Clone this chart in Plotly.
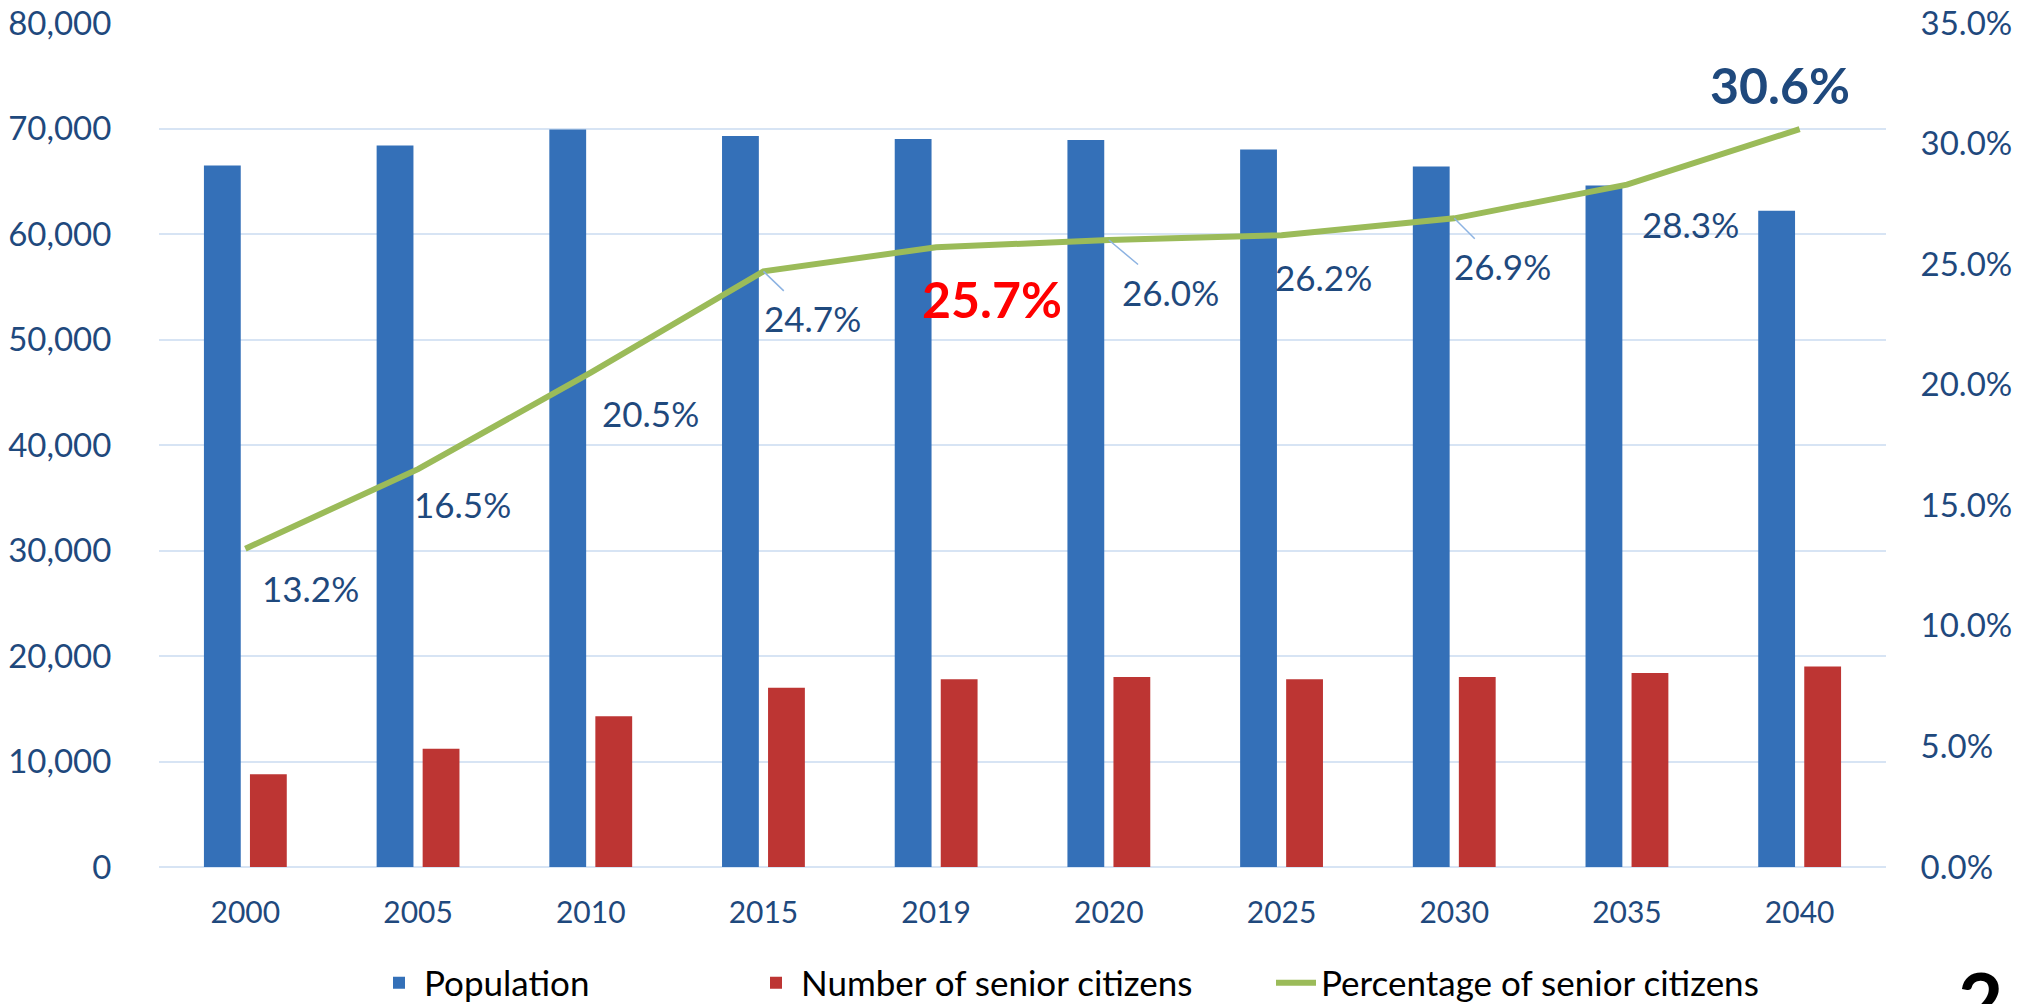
import plotly.graph_objects as go
from plotly.subplots import make_subplots

# ---- data ----
years = ["2000", "2005", "2010", "2015", "2019", "2020", "2025", "2030", "2035", "2040"]
population = [66500, 68400, 69900, 69300, 69000, 68900, 68000, 66400, 64600, 62200]
seniors = [8800, 11200, 14300, 17000, 17800, 18000, 17800, 18000, 18400, 19000]
senior_pct = [13.2, 16.5, 20.5, 24.7, 25.7, 26.0, 26.2, 26.9, 28.3, 30.6]
left_ticks = [0, 10000, 20000, 30000, 40000, 50000, 60000, 70000, 80000]
right_ticks = [0, 5, 10, 15, 20, 25, 30, 35]

# ---- label layout (pixel offsets / styles, not data) ----
label_dx = [65, 44, 60, 49, 56, 62, 42, 48, 64, -20]
label_dy = [39, 35, 40, 47, 52, 52, 42, 48, 39, -44]
label_leader = [False, False, False, True, False, True, False, True, False, False]
label_style = ["n", "n", "n", "n", "red", "n", "n", "n", "n", "big"]

FONT = "Lato"
DARK = "#1f497d"
GRID = "#d7e4f4"

fig = make_subplots(specs=[[{"secondary_y": True}]])

fig.add_trace(go.Bar(
    x=years, y=population, name="Population",
    marker=dict(color="#3470b8", line=dict(width=0)),
    legend="legend",
), secondary_y=False)

fig.add_trace(go.Bar(
    x=years, y=seniors, name="Number of senior citizens",
    marker=dict(color="#bd3533", line=dict(width=0)),
    legend="legend2",
), secondary_y=False)

fig.add_trace(go.Scatter(
    x=years, y=senior_pct, name="Percentage of senior citizens",
    mode="lines", line=dict(color="#9bbb59", width=6),
    legend="legend3",
), secondary_y=True)

annotations = []
for i, (v, dx, dy, lead, st) in enumerate(zip(senior_pct, label_dx, label_dy, label_leader, label_style)):
    if st == "red":
        font = dict(family=FONT, size=50, color="#ff0000", weight="bold")
    elif st == "big":
        font = dict(family=FONT, size=50, color=DARK, weight="bold")
    else:
        font = dict(family=FONT, size=35, color=DARK)
    annotations.append(dict(
        x=i, y=v, xref="x", yref="y2",
        text=f"{v:.1f}%", font=font,
        showarrow=True, ax=dx, ay=dy, arrowhead=0,
        arrowwidth=1.5, borderpad=6,
        arrowcolor="#8db3e2" if lead else "rgba(0,0,0,0)",
    ))

# page number fragment
annotations.append(dict(
    x=1.055, y=-0.10, xref="paper", yref="paper",
    text="2", showarrow=False, xanchor="center", yanchor="top",
    font=dict(family=FONT, size=78, color="#000000", weight="bold"),
))

legend_common = dict(
    orientation="h", xref="container", yref="container",
    yanchor="middle", xanchor="left", y=1 - 983 / 1004,
    font=dict(family=FONT, size=35, color="#000000"),
    bgcolor="rgba(0,0,0,0)", itemwidth=40,
)

fig.update_layout(
    width=2038, height=1004,
    margin=dict(l=159, r=152, t=23, b=137, autoexpand=False),
    paper_bgcolor="white", plot_bgcolor="white",
    barmode="group", bargap=0.467, bargroupgap=0.2,
    showlegend=True,
    legend=dict(legend_common, x=374 / 2038),
    legend2=dict(legend_common, x=751 / 2038),
    legend3=dict(legend_common, x=1271 / 2038),
    annotations=annotations,
    hovermode=False,
)

fig.update_xaxes(
    domain=[0, 1],
    type="category", categoryorder="array", categoryarray=years,
    range=[-0.5, len(years) - 0.5], autorange=False, automargin=False,
    showgrid=False, showline=False, zeroline=False,
    ticks="outside", ticklen=19, tickcolor="rgba(0,0,0,0)",
    tickfont=dict(family=FONT, size=30, color=DARK),
)

fig.update_yaxes(
    range=[0, 80000], tickvals=left_ticks, tickformat=",d", automargin=False,
    showgrid=True, gridcolor=GRID, gridwidth=2,
    zeroline=True, zerolinecolor=GRID, zerolinewidth=2,
    showline=False, ticks="outside", ticklen=40, tickcolor="rgba(0,0,0,0)",
    tickfont=dict(family=FONT, size=33, color=DARK),
    secondary_y=False,
)

fig.update_yaxes(
    range=[0, 35], tickvals=right_ticks, automargin=False,
    ticktext=[f"{t:.1f}%" for t in right_ticks],
    showgrid=False, zeroline=False, showline=False,
    ticks="outside", ticklen=27, tickcolor="rgba(0,0,0,0)",
    tickfont=dict(family=FONT, size=33, color=DARK),
    secondary_y=True,
)

fig.write_html(
    "out.html",
    config={"displayModeBar": False},
    post_script="document.body.style.margin='0px';document.body.style.overflow='hidden';",
)
